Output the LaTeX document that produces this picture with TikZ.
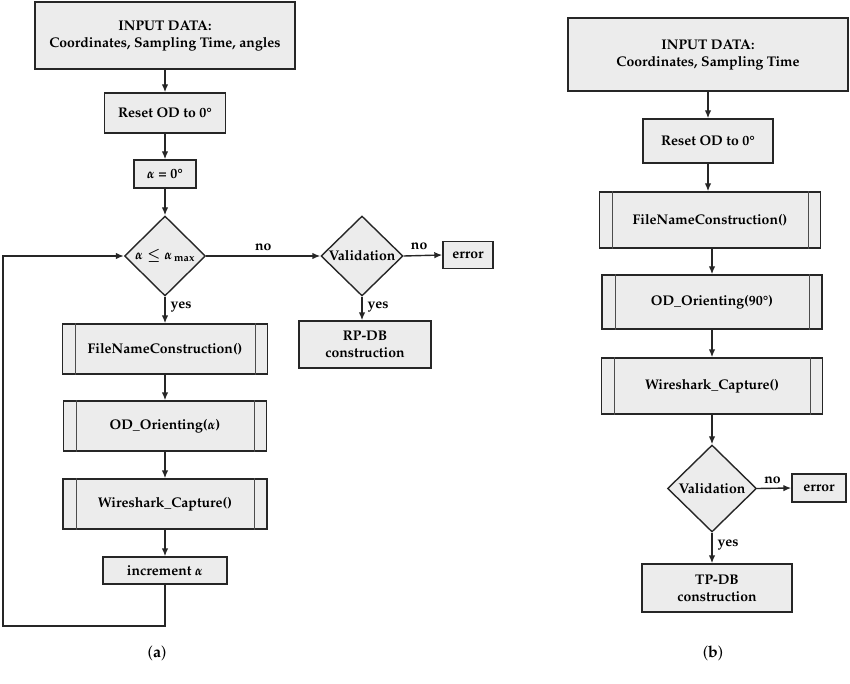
\documentclass[tikz,border=0pt]{standalone}
\usepackage[T1]{fontenc}
\usepackage{mathpazo}
\usetikzlibrary{shapes.geometric,arrows.meta}
\begin{document}
\begin{tikzpicture}[x=1pt,y=-1pt,
  txt/.style={font=\fontsize{14}{17}\selectfont\bfseries\boldmath,align=center,inner sep=0pt},
  box/.style={txt,draw=black!85,line width=1.4pt,fill=gray!15},
  dia/.style={diamond,draw=black!85,line width=1.4pt,fill=gray!15,inner sep=0pt},
  arr/.style={-{Latex[length=8pt,width=6.5pt]},line width=1.4pt,draw=black!85},
  lbl/.style={txt},
  figcap/.style={font=\fontsize{16}{18}\selectfont,inner sep=0pt}]
\useasboundingbox (0,0) rectangle (850,684);

% ---------- (a) ----------
\node[box,minimum width=260pt,minimum height=67pt] (in1) at (165,35.5) {INPUT DATA:\\Coordinates, Sampling Time, angles};
\node[box,minimum width=121pt,minimum height=40pt] (reset1) at (165,113) {Reset OD to 0\textdegree};
\node[box,minimum width=62pt,minimum height=28pt] (al0) at (165,174) {$\alpha$ = 0\textdegree};
\node[dia,minimum width=81pt,minimum height=80pt] (d1) at (165,256) {};
\node[txt] (d1t) at (d1) {$\alpha \le \alpha_{\,\mathrm{max}}$};
\node[dia,minimum width=82pt,minimum height=80pt] (v1) at (362,256) {};
\node[txt] (v1t) at (v1) {Validation};
\node[box,minimum width=50pt,minimum height=27pt] (err1) at (468,255) {error};
\node[box,minimum width=132pt,minimum height=47pt] (rp) at (365,344.5) {RP-DB\\construction};
\node[box,minimum width=205pt,minimum height=50pt] (fn1) at (165,349) {FileNameConstruction()};
\node[box,minimum width=203pt,minimum height=50pt] (od1) at (165,426) {OD\_Orienting($\alpha$)};
\node[box,minimum width=204pt,minimum height=50pt] (ws1) at (165,504) {Wireshark\_Capture()};
\node[box,minimum width=124pt,minimum height=27pt] (inc) at (165,570.5) {increment $\alpha$};
\coordinate (lb) at (3,626);

\draw[arr] (in1) -- (reset1);
\draw[arr] (reset1) -- (al0);
\draw[arr] (al0) -- (d1);
\draw[arr] (d1.east) -- (v1.west) node[lbl,pos=0.5,above=5pt] (no1) {no};
\draw[arr] (v1.east) -- (err1.west) node[lbl,pos=0.4,above=5pt] (no2) {no};
\draw[arr] (v1.south) -- (v1.south |- rp.north) node[lbl,pos=0.45,right=5pt] (yes2) {yes};
\draw[arr] (d1.south) -- (fn1.north) node[lbl,pos=0.4,right=5pt] (yes1) {yes};
\draw[arr] (fn1) -- (od1);
\draw[arr] (od1) -- (ws1);
\draw[arr] (ws1) -- (inc);
\draw[arr] (inc.south) |- (lb) |- (d1.west);

\node[figcap] (capa) at (157,653) {(\textbf{a})};

% ---------- (b) ----------
\node[box,minimum width=280pt,minimum height=73pt] (in2) at (708,54.5) {INPUT DATA:\\Coordinates, Sampling Time};
\node[box,minimum width=130pt,minimum height=44pt] (reset2) at (708,141) {Reset OD to 0\textdegree};
\node[box,minimum width=221pt,minimum height=56pt] (fn2) at (710,220) {FileNameConstruction()};
\node[box,minimum width=220pt,minimum height=54pt] (od2) at (712,302) {OD\_Orienting(90\textdegree)};
\node[box,minimum width=221pt,minimum height=56pt] (ws2) at (712,386) {Wireshark\_Capture()};
\node[dia,minimum width=89pt,minimum height=87pt] (v2) at (712,488.5) {};
\node[txt] (v2t) at (v2) {Validation};
\node[box,minimum width=54pt,minimum height=28pt] (err2) at (819,488) {error};
\node[box,minimum width=150pt,minimum height=48pt] (tp) at (717,588) {TP-DB\\construction};

\draw[arr] (in2.south -| reset2) -- (reset2);
\draw[arr] (reset2.south) -- (reset2.south |- fn2.north);
\draw[arr] (fn2.south -| ws2) -- (od2);
\draw[arr] (od2) -- (ws2);
\draw[arr] (ws2) -- (v2);
\draw[arr] (v2.east) -- (err2.west) node[lbl,pos=0.45,above=4pt] (no3) {no};
\draw[arr] (v2.south) -- (v2.south |- tp.north) node[lbl,pos=0.4,right=5pt] (yes3) {yes};

\node[figcap] (capb) at (713,653) {(\textbf{b})};

% inner lines of predefined process boxes
\foreach \n in {fn1,od1,ws1,fn2,od2,ws2}{
  \draw[line width=0.8pt,black!70] ([xshift=14pt]\n.north west) -- ([xshift=14pt]\n.south west)
        ([xshift=-13pt]\n.north east) -- ([xshift=-13pt]\n.south east);
}
\end{tikzpicture}
\end{document}
